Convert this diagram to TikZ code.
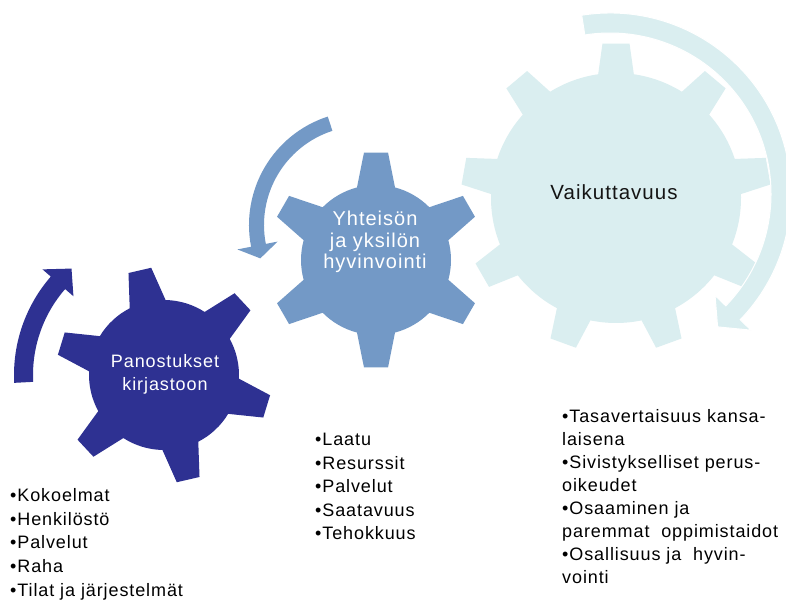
\documentclass[tikz,border=0pt]{standalone}
\usepackage{fontspec}
\setmainfont{Liberation Sans}
\newfontfamily\lsfont[LetterSpace=5]{Liberation Sans}
\definecolor{navy}{RGB}{46,49,146}
\definecolor{midblue}{RGB}{115,153,198}
\definecolor{pale}{RGB}{218,238,240}
\definecolor{ink}{RGB}{20,20,20}
\tikzset{
  gearlabel/.style={align=center, inner sep=0pt},
  listline/.style={anchor=base west, inner sep=0pt, text=black, font=\lsfont\fontsize{18}{23}\selectfont},
}
% color, center, n, start angle, body radius, tip radius, tip half-angle, base half-angle
\newcommand{\mygear}[8]{%
  \fill[#1, shift={#2}] ({#4-#8}:#5pt)
  \foreach \k in {1,...,#3}{
    -- ({#4+360/#3*(\k-1)-#8}:#5pt) -- ({#4+360/#3*(\k-1)-#7}:#6pt)
    -- ({#4+360/#3*(\k-1)+#7}:#6pt) -- ({#4+360/#3*(\k-1)+#8}:#5pt)
    arc[start angle={#4+360/#3*(\k-1)+#8}, end angle={#4+360/#3*\k-#8}, radius=#5pt]
  } -- cycle;
}
\begin{document}
\begin{tikzpicture}[x=1pt,y=1pt]
\useasboundingbox (0,0) rectangle (786,599);
\fill[white] (0,0) rectangle (786,599);
\clip (0,0) rectangle (786,599);

% gears
\mygear{pale}{(616,401)}{9}{90}{125}{155}{5}{8.2}
\mygear{midblue}{(376,339)}{6}{90}{75}{108}{6.4}{14.7}
\mygear{navy}{(164,224)}{6}{103}{75}{108}{6.2}{14.2}

% circular arrows
\fill[navy, shift={(164,224)}]
  (183:131pt) arc[start angle=183, end angle=139, radius=131pt]
  -- (139:120pt) -- (131:141pt) -- (139:161pt)
  -- (139:150pt) arc[start angle=139, end angle=183, radius=150pt] -- cycle;
\fill[midblue, shift={(363,374)}]
  (108:99pt) arc[start angle=108, end angle=191, radius=99pt]
  -- (191:87pt) -- (198:108pt) -- (191:128pt)
  -- (191:114pt) arc[start angle=191, end angle=108, radius=114pt] -- cycle;
\fill[pale, draw=white, line width=1pt, shift={(610,405)}]
  (99:181pt) arc[start angle=99, end angle=-44, radius=181pt]
  -- (-44:196pt) -- (-51:171pt) -- (-44:146pt)
  -- (-44:161pt) arc[start angle=-44, end angle=99, radius=161pt] -- cycle;

% gear labels
\node[gearlabel, text=white, font=\lsfont\fontsize{18}{23}\selectfont] (pano) at (165,224.5) {Panostukset\\kirjastoon};
\node[gearlabel, text=white, font=\lsfont\fontsize{20}{21.5}\selectfont] (yht) at (375,357) {Yhteisön\\ja yksilön\\hyvinvointi};
\node[gearlabel, text=ink, font=\lsfont\fontsize{20.5}{24}\selectfont] (vai) at (614,407) {Vaikuttavuus};

% list 1
\node[listline] (a1) at (10,97) {•Kokoelmat};
\node[listline] (a2) at (10,73.5) {•Henkilöstö};
\node[listline] (a3) at (10,50) {•Palvelut};
\node[listline] (a4) at (10,26.5) {•Raha};
\node[listline] (a5) at (10,3) {•Tilat ja järjestelmät};

% list 2
\node[listline] (b1) at (315,153) {•Laatu};
\node[listline] (b2) at (315,129.5) {•Resurssit};
\node[listline] (b3) at (315,106) {•Palvelut};
\node[listline] (b4) at (315,82.5) {•Saatavuus};
\node[listline] (b5) at (315,59) {•Tehokkuus};

% list 3
\node[listline] (c1) at (562,176) {•Tasavertaisuus kansa-};
\node[listline] (c2) at (562,153.1) {laisena};
\node[listline] (c3) at (562,130.3) {•Sivistykselliset perus-};
\node[listline] (c4) at (562,107.4) {oikeudet};
\node[listline] (c5) at (562,84.6) {•Osaaminen ja};
\node[listline] (c6) at (562,61.7) {paremmat~~oppimistaidot};
\node[listline] (c7) at (562,38.9) {•Osallisuus ja~~hyvin-};
\node[listline] (c8) at (562,16) {vointi};
\end{tikzpicture}
\end{document}
